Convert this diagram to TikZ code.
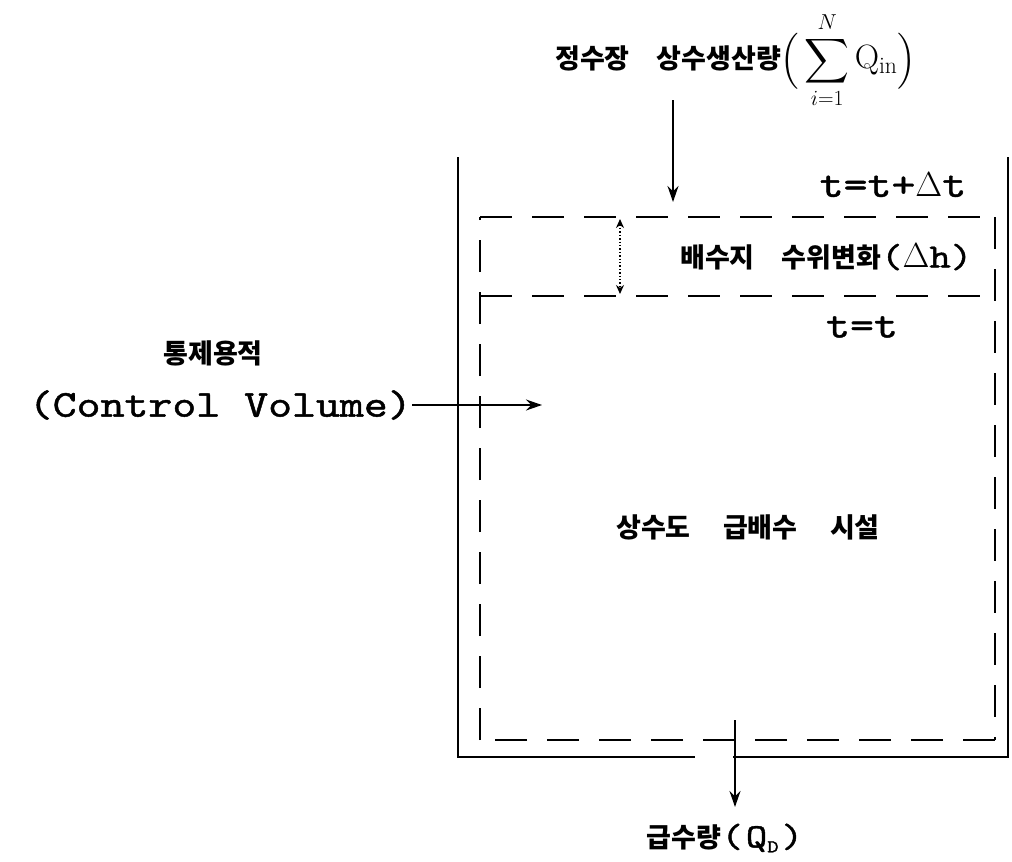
\documentclass[tikz,border=0pt]{standalone}
\usepackage{amsmath}
\usepackage{fontspec}
\newfontfamily\kor{Noto Sans CJK KR}
\newfontfamily\tw{lmmono10-regular.otf}[FakeStretch=1.2,FakeBold=1.2]
\usetikzlibrary{arrows.meta}

\newcommand{\bigdelta}{\scalebox{1.4}{$\Delta$}}
\newcommand{\lowsub}[1]{\raisebox{-5pt}{\fontsize{18}{18}\selectfont #1}}

\tikzset{
    wall/.style={line width=2.4pt},
    cvline/.style={line width=2pt, dash pattern=on 32pt off 20pt},
    flow/.style={line width=1.8pt, -{Stealth[length=16pt,width=11pt]}},
    kortext/.style={font=\kor\bfseries\fontsize{27}{30}\selectfont, inner sep=0pt},
    twtext/.style={font=\tw\fontsize{38}{42}\selectfont, inner sep=0pt}
}

\begin{document}
\begin{tikzpicture}[x=1pt,y=-1pt]
\useasboundingbox (0,0) rectangle (1012,862);

% Tank walls
\draw[wall] (458,157) -- (458,757) -- (695,757);
\draw[wall] (733,757) -- (1008,757) -- (1008,157);

% Control volume
\coordinate (cvtl) at (480,217);
\coordinate (cvtr) at (995,217);
\coordinate (cvbr) at (995,740);
\coordinate (cvbl) at (480,740);
\draw[cvline] (cvtl) -- (cvtr);
\draw[cvline] (cvtr) -- (cvbr);
\draw[cvline] (cvbr) -- (cvbl);
\draw[cvline] (cvbl) -- (cvtl);

% Level at t=t
\coordinate (lvl) at (480,296);
\coordinate (lvr) at (992,296);
\draw[cvline] (lvl) -- (lvr);

% Level change
\coordinate (dhtop) at (620,219);
\coordinate (dhbot) at (620,294);
\draw[line width=1.4pt, dotted, {Stealth[length=9pt,width=8pt]}-{Stealth[length=9pt,width=8pt]}] (dhtop) -- (dhbot);

% Labels
\node[kortext, anchor=west] (prod) at (555,60) {정수장\hspace{1em}상수생산량\scalebox{1.25}{$\Bigl(\,\displaystyle\sum_{i=1}^{N}\mathrm{Q}_{\mathrm{in}}\Bigr)$}};
\node[twtext] (tnext) at (893,185) {t=t+\bigdelta t};
\node[kortext, anchor=west] (dh) at (680,257) {배수지\hspace{1em}수위변화{\tw\fontsize{34}{36}\selectfont(\bigdelta h)}};
\node[twtext] (tnow) at (862,327) {t=t};
\node[kortext] (cvkor) at (213,353) {통제용적};
\node[twtext, anchor=east] (cv) at (412,405) {(Control Volume)};
\node[kortext] (plant) at (748,527) {상수도\hspace{1.2em}급배수\hspace{1.2em}시설};
\node[kortext] (supply) at (725,838) {급수량{\tw\fontsize{34}{36}\selectfont(\kern3pt Q\lowsub{D}\kern3pt)}};

% Flows
\coordinate (inA) at (673,100);
\coordinate (inB) at (673,202);
\draw[flow] (inA) -- (inB);
\coordinate (cvB) at (542,403);
\draw[flow, line width=1.4pt] (cv.east) -- (cv.east -| cvB);
\coordinate (outA) at (735,720);
\coordinate (outB) at (735,807);
\draw[flow] (outA) -- (outB);

\end{tikzpicture}
\end{document}
